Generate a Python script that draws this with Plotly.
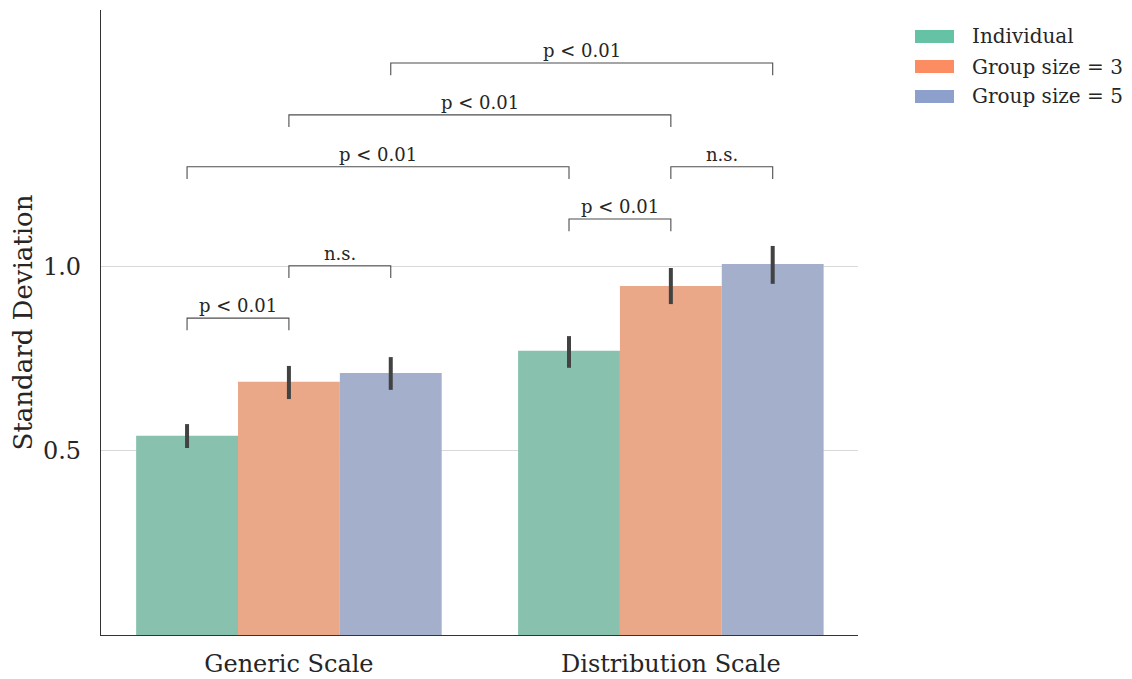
import plotly.graph_objects as go

categories = ["Generic Scale", "Distribution Scale"]
groups = ["Individual", "Group size = 3", "Group size = 5"]

# bar heights per group (Generic, Distribution)
means = {
    "Individual":     [0.541, 0.772],
    "Group size = 3": [0.688, 0.948],
    "Group size = 5": [0.712, 1.008],
}
ci_low = {
    "Individual":     [0.508, 0.726],
    "Group size = 3": [0.641, 0.899],
    "Group size = 5": [0.666, 0.954],
}
ci_high = {
    "Individual":     [0.573, 0.812],
    "Group size = 3": [0.731, 0.997],
    "Group size = 5": [0.755, 1.057],
}

bar_colors = ["#88c1ae", "#eaa889", "#a4afcb"]
legend_colors = ["#66c2a5", "#fc8d62", "#8da0cb"]

# significance brackets: (category_a, group_a, category_b, group_b, height, label)
brackets = [
    (0, 0, 0, 1, 0.861, "p < 0.01"),
    (0, 1, 0, 2, 1.003, "n.s."),
    (0, 0, 1, 0, 1.272, "p < 0.01"),
    (0, 1, 1, 1, 1.413, "p < 0.01"),
    (0, 2, 1, 2, 1.554, "p < 0.01"),
    (1, 0, 1, 1, 1.130, "p < 0.01"),
    (1, 1, 1, 2, 1.272, "n.s."),
]
tip = 0.033

FONT = "DejaVu Serif"
TXT = "#262626"

# page offset of the plot div (body margin) in the screenshot
OFF = 8
PL, PR, PT, PB = 101, 858, 10, 635   # desired plot area in screen px
PW, PH = PR - PL, PB - PT

fig = go.Figure()
xs = list(range(len(categories)))
for gi, g in enumerate(groups):
    m = means[g]
    fig.add_trace(go.Bar(
        x=xs, y=m, name=g, showlegend=False,
        marker=dict(color=bar_colors[gi], line=dict(width=0)),
        error_y=dict(type="data", symmetric=False,
                     array=[h - v for h, v in zip(ci_high[g], m)],
                     arrayminus=[v - l for l, v in zip(ci_low[g], m)],
                     color="#424242", thickness=4, width=0),
        hoverinfo="skip",
    ))

group_width = 0.8
bw = group_width / len(groups)

def bar_x(ci, gi):
    return ci - group_width / 2 + bw * (gi + 0.5)

annotations = []
for ca, ga, cb, gb, h, lab in brackets:
    xa, xb = bar_x(ca, ga), bar_x(cb, gb)
    fig.add_trace(go.Scatter(
        x=[xa, xa, xb, xb], y=[h - tip, h, h, h - tip], mode="lines",
        line=dict(color="#4d4d4d", width=1.1), showlegend=False, hoverinfo="skip",
    ))
    annotations.append(dict(x=(xa + xb) / 2, y=h, xref="x", yref="y", text=lab,
                            showarrow=False, yanchor="bottom", yshift=0,
                            font=dict(family=FONT, size=18, color=TXT)))

# custom legend (wide patches like the reference)
shapes = []
L0, L1 = (915 - PL) / PW, (954 - PL) / PW
TX = (970 - PL) / PW
for gi, g in enumerate(groups):
    yc = 36.5 + gi * 30
    yp = (PB - yc) / PH
    hh = 6.5 / PH
    shapes.append(dict(type="rect", xref="paper", yref="paper", x0=L0, x1=L1,
                       y0=yp - hh, y1=yp + hh, fillcolor=legend_colors[gi],
                       line=dict(width=0)))
    annotations.append(dict(x=TX, y=yp, xref="paper", yref="paper", text=g,
                            showarrow=False, xanchor="left", yanchor="middle",
                            font=dict(family=FONT, size=20, color=TXT)))

W, H = 1132, 679
fig.update_layout(
    width=W, height=H,
    margin=dict(l=PL - OFF, r=W - (PR - OFF), t=PT - OFF, b=H - (PB - OFF),
                autoexpand=False),
    paper_bgcolor="white", plot_bgcolor="white",
    barmode="group", bargap=0.2, bargroupgap=0,
    font=dict(family=FONT, color=TXT),
    showlegend=False,
    shapes=shapes, annotations=annotations,
    xaxis=dict(range=[-0.492, 1.49], tickvals=xs, ticktext=categories,
               showline=True, linecolor="#333333", linewidth=1.3, showgrid=False,
               zeroline=False, ticks="", ticklabelstandoff=7, automargin=False,
               tickfont=dict(family=FONT, size=24, color=TXT)),
    yaxis=dict(range=[0, 1.698], tickvals=[0.5, 1.0], ticktext=["0.5", "1.0"],
               showline=True, linecolor="#333333", linewidth=1.3,
               showgrid=True, gridcolor="#d9d9d9", gridwidth=1.2,
               zeroline=False, ticks="", ticklabelstandoff=14, automargin=False,
               tickfont=dict(family=FONT, size=24, color=TXT),
               title=dict(text="Standard Deviation", standoff=12,
                          font=dict(family=FONT, size=26, color=TXT))),
)

fig.write_html("out.html")
